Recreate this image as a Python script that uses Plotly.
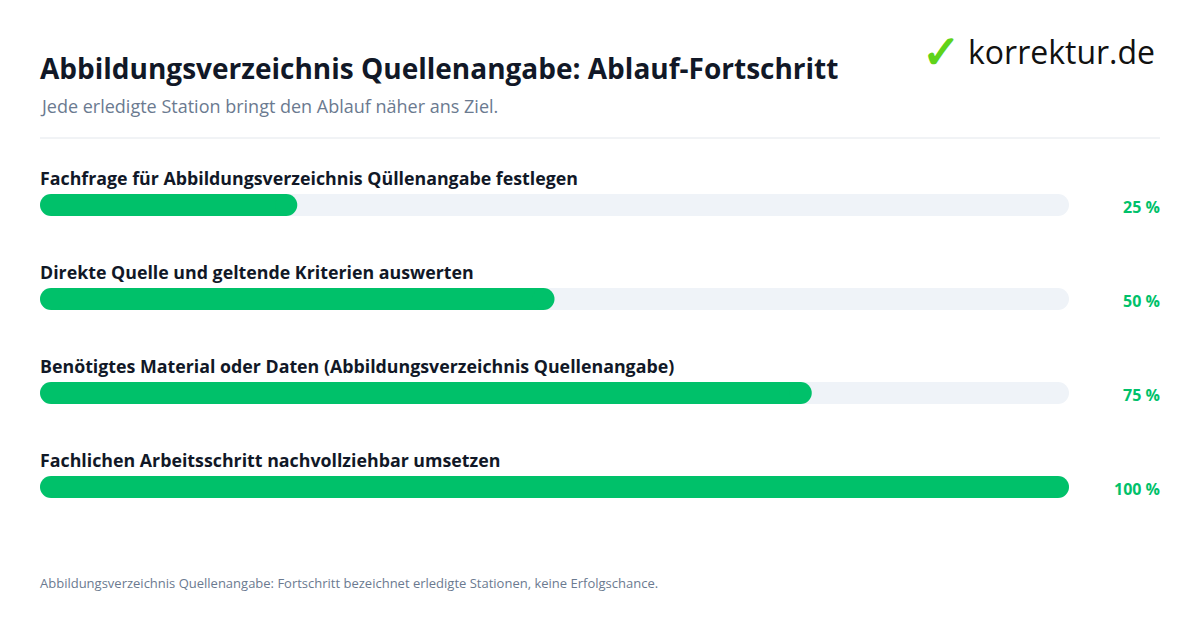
import plotly.graph_objects as go

labels = ["Fachfrage für Abbildungsverzeichnis Qüllenangabe festlegen",
          "Direkte Quelle und geltende Kriterien auswerten",
          "Benötigtes Material oder Daten (Abbildungsverzeichnis Quellenangabe)",
          "Fachlichen Arbeitsschritt nachvollziehbar umsetzen"]
values = [25, 50, 75, 100]
pct_labels = ["25 %", "50 %", "75 %", "100 %"]

W, H = 1200, 630
OFF = 8  # page body margin compensation
PAD = 2  # annotation inner padding compensation
X0, X1 = 40 - OFF, 1069 - OFF
BH = 22
r = (BH / 2) / (X1 - X0) * 100
GREEN = "#00c16a"
TRACK = "#eff3f8"
FONT = "Open Sans"

fig = go.Figure()
for i, (lab, v, pl) in enumerate(zip(labels, values, pct_labels)):
    yc = 205 + 94 * i - OFF
    for end, col in [(100, TRACK), (v, GREEN)]:
        fig.add_trace(go.Scatter(x=[r, end - r], y=[yc, yc], mode="lines+markers",
                                 line=dict(color=col, width=BH),
                                 marker=dict(color=col, size=BH, line=dict(width=0)),
                                 hoverinfo="skip", showlegend=False))
    fig.add_annotation(x=(40 - OFF - PAD) / W, y=yc - 27, xref="paper", yref="y", text=f"<b>{lab}</b>", showarrow=False,
                       xanchor="left", yanchor="middle", font=dict(size=17.8, color="#111827", family=FONT))
    fig.add_annotation(x=(1160 - OFF + PAD) / W, y=yc + 2, xref="paper", yref="y", text=f"<b>{pl}</b>", showarrow=False,
                       xanchor="right", yanchor="middle", font=dict(size=16, color=GREEN, family=FONT))

fig.update_xaxes(range=[0, 100], domain=[X0 / W, X1 / W], visible=False, fixedrange=True)
fig.update_yaxes(range=[H, 0], domain=[0, 1], visible=False, fixedrange=True)

def t(x, y, s, size, color, anchor="left", **kw):
    fig.add_annotation(x=(x - OFF - PAD) / W, y=1 - (y - OFF) / H, xref="paper", yref="paper", text=s, showarrow=False,
                       xanchor=anchor, yanchor="middle", font=dict(size=size, color=color, family=FONT), **kw)

t(40, 68, "<b>Abbildungsverzeichnis Quellenangabe: Ablauf-Fortschritt</b>", 28, "#111827")
t(40, 106, "Jede erledigte Station bringt den Ablauf näher ans Ziel.", 18, "#6b7a90")
t(40, 583, "Abbildungsverzeichnis Quellenangabe: Fortschritt bezeichnet erledigte Stationen, keine Erfolgschance.", 13, "#6b7a90")
t(922, 50, "<b>✓</b>", 46, "#5fd31a")
t(968, 52, "korrektur.de", 32, "#111111")
fig.add_shape(type="line", xref="paper", yref="paper", x0=(40 - OFF) / W, x1=(1160 - OFF) / W,
              y0=1 - (138 - OFF) / H, y1=1 - (138 - OFF) / H, line=dict(color="#e3e7ec", width=1))

fig.update_layout(width=W, height=H, margin=dict(l=0, r=0, t=0, b=0),
                  paper_bgcolor="white", plot_bgcolor="white")
fig.write_html("out.html")
